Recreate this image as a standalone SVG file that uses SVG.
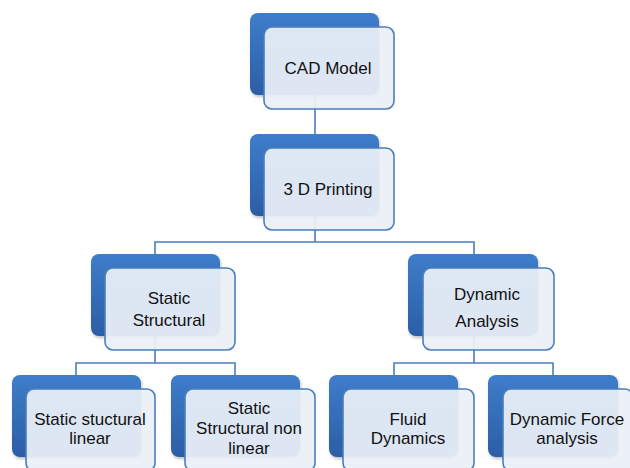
<svg xmlns="http://www.w3.org/2000/svg" width="630" height="468" viewBox="0 0 630 468">
<defs>
<linearGradient id="bg" x1="0" y1="0" x2="0" y2="1">
<stop offset="0" stop-color="#3e7dca"/>
<stop offset="1" stop-color="#2b5ea6"/>
</linearGradient>
<filter id="sh" x="-10%" y="-10%" width="130%" height="130%">
<feDropShadow dx="1" dy="2" stdDeviation="1.5" flood-color="#000" flood-opacity="0.25"/>
</filter>
</defs>
<style>
.back{fill:url(#bg);filter:url(#sh)}
.front{fill:#ebf0f8;fill-opacity:0.93;stroke:#4a7ebb;stroke-width:1.6}
.con{fill:none;stroke:#4a7ebb;stroke-width:1.6}
text{font-family:"Liberation Sans",Arial,sans-serif;font-size:17px;fill:#111;text-anchor:middle}
</style>
<g id="connectors">
<path class="con" d="M315 95V134"/>
<path class="con" d="M315 216V242M155 254V242H474V254"/>
<path class="con" d="M155 336V363M76 375V363H235V375"/>
<path class="con" d="M474 336V363M394 375V363H553V375"/>
</g>
<g id="cad">
<rect class="back" x="250" y="13" width="129" height="82" rx="8"/>
<rect class="front" x="264" y="27" width="130" height="82" rx="8"/>
<text x="328" y="74">CAD Model</text>
</g>
<g id="printing">
<rect class="back" x="250" y="134" width="129" height="82" rx="8"/>
<rect class="front" x="264" y="148" width="130" height="82" rx="8"/>
<text x="328" y="195">3 D Printing</text>
</g>
<g id="static">
<rect class="back" x="91" y="254" width="129" height="82" rx="8"/>
<rect class="front" x="105" y="268" width="130" height="82" rx="8"/>
<text x="169" y="304">Static</text>
<text x="169" y="326">Structural</text>
</g>
<g id="dynamic">
<rect class="back" x="408" y="254" width="130" height="82" rx="8"/>
<rect class="front" x="423" y="268" width="131" height="82" rx="8"/>
<text x="487" y="300">Dynamic</text>
<text x="487" y="327">Analysis</text>
</g>
<g id="static-linear">
<rect class="back" x="12" y="375" width="129" height="82" rx="8"/>
<rect class="front" x="26" y="389" width="129" height="82" rx="8"/>
<text x="90" y="425">Static stuctural</text>
<text x="90" y="444">linear</text>
</g>
<g id="static-nonlinear">
<rect class="back" x="171" y="375" width="129" height="82" rx="8"/>
<rect class="front" x="185" y="389" width="130" height="82" rx="8"/>
<text x="249" y="414">Static</text>
<text x="249" y="434">Structural non</text>
<text x="249" y="454">linear</text>
</g>
<g id="fluid">
<rect class="back" x="329" y="375" width="129" height="82" rx="8"/>
<rect class="front" x="343" y="389" width="131" height="82" rx="8"/>
<text x="408" y="425">Fluid</text>
<text x="408" y="444">Dynamics</text>
</g>
<g id="force">
<rect class="back" x="488" y="375" width="130" height="82" rx="8"/>
<rect class="front" x="503" y="389" width="130" height="82" rx="8"/>
<text x="567" y="425">Dynamic Force</text>
<text x="567" y="444">analysis</text>
</g>
</svg>
